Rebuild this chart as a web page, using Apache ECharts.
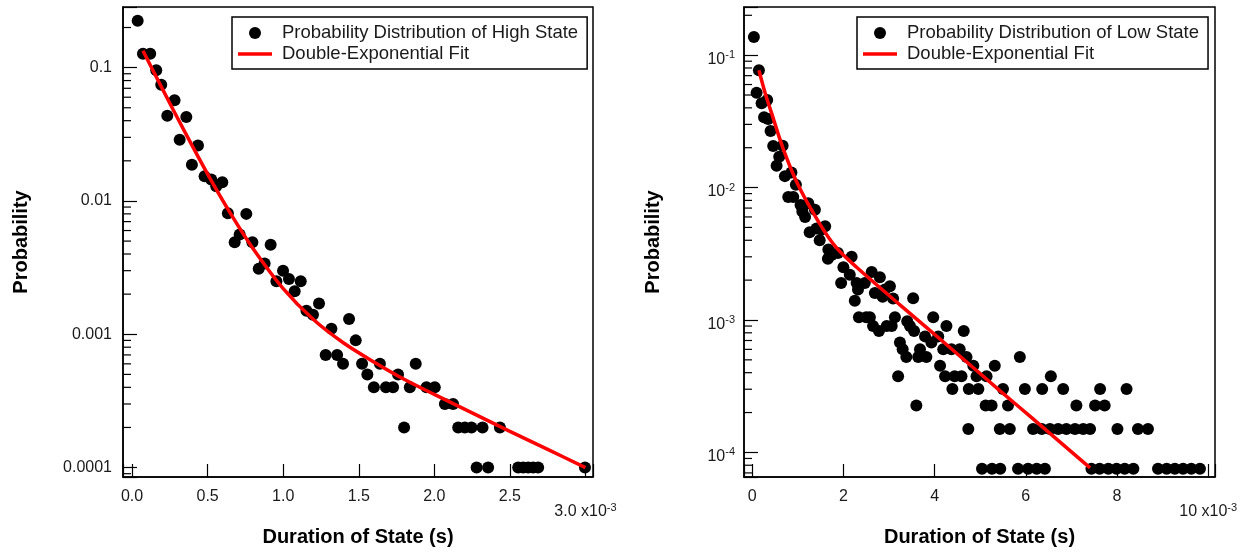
<!DOCTYPE html>
<html>
<head>
<meta charset="utf-8">
<script src="https://cdn.jsdelivr.net/npm/echarts@6/dist/echarts.min.js"></script>
<style>
  html, body { margin: 0; padding: 0; background: #fff; }
  #chart { width: 1250px; height: 554px; }
</style>
</head>
<body>
<div id="chart"></div>
<script>
// Durations are in units of 1e-3 s (the axes carry the x10^-3 multiplier).

// ---- High state: dwell-time histogram ----
const highDuration = [0.037, 0.072, 0.12, 0.16, 0.193, 0.233, 0.281, 0.315, 0.359, 0.396,
  0.436, 0.48, 0.524, 0.557, 0.597, 0.634, 0.679, 0.712, 0.756, 0.796,
  0.838, 0.877, 0.917, 0.955, 0.999, 1.038, 1.076, 1.116, 1.154, 1.197,
  1.237, 1.281, 1.319, 1.357, 1.396, 1.436, 1.48, 1.522, 1.557, 1.6,
  1.64, 1.68, 1.727, 1.76, 1.8, 1.838, 1.877, 1.948, 2.003, 2.07,
  2.124, 2.158, 2.202, 2.246, 2.28, 2.319, 2.356, 2.434, 2.555, 2.588,
  2.621, 2.654, 2.687, 2.997];
const highProb = [0.225, 0.127, 0.127, 0.0955, 0.0745, 0.0436, 0.0569, 0.0288, 0.0427, 0.0187,
  0.0261, 0.0153, 0.0145, 0.0129, 0.0138, 0.0081, 0.0049, 0.0056, 0.008, 0.0049,
  0.0031, 0.0034, 0.0047, 0.0025, 0.003, 0.0026, 0.0021, 0.0025, 0.0015, 0.0014,
  0.0017, 0.0007, 0.0011, 0.0007, 0.0006, 0.0013, 0.0009, 0.0006, 0.0005, 0.0004,
  0.0006, 0.0004, 0.0004, 0.0005, 0.0002, 0.0004, 0.0006, 0.0004, 0.0004, 0.0003,
  0.0003, 0.0002, 0.0002, 0.0002, 0.0001, 0.0002, 0.0001, 0.0002, 0.0001, 0.0001,
  0.0001, 0.0001, 0.0001, 0.0001];

// Double-exponential fit curve, high state
const highFitDuration = [0.072, 0.2, 0.35, 0.5, 0.65, 0.8, 1.0, 1.2, 1.4, 1.6, 1.8, 2.0, 2.25, 2.5, 2.75, 3.0];
const highFitProb = [0.134, 0.0696, 0.0328, 0.0159, 0.0081, 0.0044, 0.0022, 0.00129, 0.00086, 0.00062,
  0.00046, 0.000354, 0.000257, 0.000187, 0.000137, 0.0001];

// ---- Low state: dwell-time histogram ----
const lowDuration = [0.037, 0.096, 0.147, 0.206, 0.26, 0.329, 0.35, 0.403, 0.46, 0.535,
  0.592, 0.667, 0.717, 0.79, 0.86, 0.9, 0.958, 1.06, 1.1, 1.16,
  1.23, 1.26, 1.375, 1.41, 1.48, 1.52, 1.6, 1.66, 1.67, 1.74,
  1.88, 1.95, 2.0, 2.14, 2.18, 2.25, 2.29, 2.32, 2.34, 2.47,
  2.5, 2.58, 2.62, 2.65, 2.69, 2.8, 2.78, 2.86, 2.91, 2.95,
  3.02, 3.06, 3.09, 3.13, 3.2, 3.24, 3.3, 3.38, 3.4, 3.46,
  3.53, 3.55, 3.6, 3.64, 3.68, 3.79, 3.82, 3.93, 3.97, 4.08,
  4.12, 4.19, 4.23, 4.26, 4.37, 4.39, 4.44, 4.55, 4.59, 4.64,
  4.7, 4.74, 4.75, 4.85, 4.92, 4.96, 5.04, 5.14, 5.12, 5.25,
  5.26, 5.32, 5.43, 5.44, 5.5, 5.61, 5.65, 5.83, 5.87, 5.98,
  6.05, 6.16, 6.24, 6.35, 6.36, 6.42, 6.53, 6.55, 6.71, 6.82,
  6.89, 7.08, 7.11, 7.26, 7.41, 7.44, 7.52, 7.62, 7.63, 7.73,
  7.81, 7.99, 8.01, 8.17, 8.21, 8.36, 8.46, 8.68, 8.9, 9.09,
  9.27, 9.45, 9.63, 9.82];
const lowProb = [0.137, 0.052, 0.077, 0.0433, 0.034, 0.0458, 0.033, 0.0267, 0.0206, 0.0146,
  0.0171, 0.0207, 0.0122, 0.0085, 0.013, 0.0085, 0.0105, 0.0074, 0.0066, 0.006,
  0.0076, 0.0046, 0.0068, 0.0049, 0.004, 0.0048, 0.0051, 0.0029, 0.0034, 0.0031,
  0.0032, 0.0019, 0.0025, 0.0022, 0.003, 0.0014, 0.0019, 0.0017, 0.00105, 0.0019,
  0.00105, 0.00105, 0.0023, 0.000902, 0.0016, 0.0021, 0.000827, 0.0015, 0.0017, 0.000902,
  0.0018, 0.000902, 0.00145, 0.00105, 0.000376, 0.000677, 0.000602, 0.000526, 0.000978, 0.000902,
  0.00146, 0.000827, 0.000226, 0.000526, 0.000602, 0.000752, 0.000526, 0.000677, 0.00105, 0.000752,
  0.000451, 0.000602, 0.000376, 0.000902, 0.000602, 0.000301, 0.000376, 0.000602, 0.000376, 0.000827,
  0.000526, 0.00015, 0.000301, 0.000451, 0.000376, 0.000301, 0.0000752, 0.000376, 0.000226, 0.000226,
  0.0000752, 0.000451, 0.00015, 0.0000752, 0.000301, 0.000226, 0.00015, 0.0000752, 0.000526, 0.000301,
  0.0000752, 0.00015, 0.0000752, 0.00015, 0.000301, 0.0000752, 0.00015, 0.000376, 0.00015, 0.000301,
  0.00015, 0.00015, 0.000226, 0.00015, 0.00015, 0.0000752, 0.000226, 0.0000752, 0.000301, 0.000226,
  0.0000752, 0.0000752, 0.00015, 0.0000752, 0.000301, 0.0000752, 0.00015, 0.00015, 0.0000752, 0.0000752,
  0.0000752, 0.0000752, 0.0000752, 0.0000752];

// Double-exponential fit curve, low state
const lowFitDuration = [0.147, 0.3, 0.425, 0.68, 1.01, 1.485, 1.85, 2.29, 3.24, 4.335, 5.43, 6.16, 7.41];
const lowFitProb = [0.077, 0.0495, 0.0365, 0.0196, 0.0104, 0.0053, 0.0035, 0.0025, 0.0013, 0.00062,
  0.000293, 0.000179, 0.0000764];

// ---- Tick labels ----
const highXTicks = [0, 0.5, 1.0, 1.5, 2.0, 2.5, 3.0];
const highXTickLabels = ['0.0', '0.5', '1.0', '1.5', '2.0', '2.5', '3.0'];
const lowXTicks = [0, 2, 4, 6, 8, 10];
const lowXTickLabels = ['0', '2', '4', '6', '8', '10'];
const xMultiplierExp = '-3';
const highYTickExp = [-4, -3, -2, -1];
const highYTickLabels = ['0.0001', '0.001', '0.01', '0.1'];
const lowYTickExp = [-4, -3, -2, -1];

const highName = 'Probability Distribution of High State';
const lowName = 'Probability Distribution of Low State';
const fitName = 'Double-Exponential Fit';
const xTitle = 'Duration of State (s)';
const yTitle = 'Probability';

// ---- Axis ranges ----
const highX = [-0.06, 3.05], highY = [8.5e-5, 0.285];
const lowX = [-0.18, 10.15], lowY = [6.52e-5, 0.231];

const FONT = 'Arial, "Liberation Sans", sans-serif';
const TEXT = '#1a1a1a';

function pairs(xs, ys) { return xs.map((x, i) => [x, ys[i]]); }

// log-axis minor tick positions (2..9 within each decade)
function minorTicks(range) {
  const out = [];
  for (let e = -6; e <= 0; e++) {
    for (let m = 2; m <= 9; m++) {
      const v = m * Math.pow(10, e);
      if (v > range[0] && v < range[1]) out.push(v);
    }
  }
  return out;
}

function xFormatter(ticks, labels) {
  return function (v) {
    const i = ticks.findIndex(t => Math.abs(t - v) < 1e-6);
    if (i < 0) return '';
    if (i === ticks.length - 1) {
      return '{sp| }\n{b|' + labels[i] + ' x10}{s|' + xMultiplierExp + '}';
    }
    return '{n|' + labels[i] + '}';
  };
}

const xRich = {
  n: { fontSize: 16, lineHeight: 20, color: TEXT, fontFamily: FONT },
  sp: { fontSize: 8, lineHeight: 15 },
  b: { fontSize: 16, lineHeight: 20, color: TEXT, fontFamily: FONT },
  s: { fontSize: 11, lineHeight: 11, verticalAlign: 'top', color: TEXT, fontFamily: FONT }
};

function xAxisCfg(gridIndex, range, ticks, labels) {
  return {
    gridIndex, type: 'value', min: range[0], max: range[1],
    name: xTitle, nameLocation: 'middle', nameGap: 50,
    nameTextStyle: { fontSize: 20, fontWeight: 'bold', color: '#000', fontFamily: FONT },
    axisLine: { show: true, onZero: false, lineStyle: { color: '#000', width: 1.5 } },
    axisTick: { show: true, inside: true, length: 13, lineStyle: { color: '#000', width: 1.2 } },
    splitLine: { show: false },
    axisLabel: { margin: 10, formatter: xFormatter(ticks, labels), rich: xRich,
      showMinLabel: true, showMaxLabel: true, hideOverlap: false }
  };
}

function yAxisCfg(gridIndex, range, nameGap, axisLabel) {
  return {
    gridIndex, type: 'log', logBase: 10, min: range[0], max: range[1],
    name: yTitle, nameLocation: 'middle', nameRotate: 90, nameGap,
    nameTextStyle: { fontSize: 20, fontWeight: 'bold', color: '#000', fontFamily: FONT },
    axisLine: { show: true, onZero: false, lineStyle: { color: '#000', width: 1.5 } },
    axisTick: { show: true, inside: true, length: 14, lineStyle: { color: '#000', width: 1.2 } },
    splitLine: { show: false },
    minorTick: { show: false },
    axisLabel
  };
}

function expOf(v) {
  const e = Math.log10(v);
  return Math.abs(e - Math.round(e)) < 1e-6 ? Math.round(e) : null;
}

const highYFormatter = v => {
  const e = expOf(v);
  const i = highYTickExp.indexOf(e);
  return i < 0 ? '' : highYTickLabels[i];
};
const lowYFormatter = v => {
  const e = expOf(v);
  return lowYTickExp.indexOf(e) < 0 ? '' : '{b|10}{s|' + e + '}';
};

function minorTickSeries(idx, xMin, yRange) {
  return {
    type: 'custom', xAxisIndex: idx, yAxisIndex: idx, silent: true, clip: false, z: 5,
    data: minorTicks(yRange).map(v => [xMin, v]),
    renderItem: (params, api) => {
      const p = api.coord([api.value(0), api.value(1)]);
      return { type: 'line', shape: { x1: p[0], y1: p[1], x2: p[0] + 8, y2: p[1] },
        style: { stroke: '#000', lineWidth: 1.2 } };
    }
  };
}

// thin bar used as the legend glyph of the fit curves
const FIT_ICON = 'path://M0,0L34,0L34,3.5L0,3.5Z';

function legendCfg(left, dataName) {
  return {
    left, top: 17, orient: 'vertical',
    data: [{ name: dataName, icon: 'circle' }, { name: fitName, icon: FIT_ICON }],
    itemWidth: 34, itemHeight: 12, itemGap: 1,
    padding: [6, 9, 5, 6],
    borderColor: '#000', borderWidth: 1.5, backgroundColor: '#fff',
    selectedMode: false,
    textStyle: { fontSize: 18.5, lineHeight: 20, color: TEXT, fontFamily: FONT, padding: [0, 0, 0, 5] }
  };
}

const option = {
  animation: false,
  backgroundColor: '#fff',
  textStyle: { fontFamily: FONT },
  grid: [
    { left: 123, top: 7, width: 470, height: 470, show: true, borderColor: '#000', borderWidth: 1.5 },
    { left: 744, top: 7, width: 471, height: 470, show: true, borderColor: '#000', borderWidth: 1.5 }
  ],
  legend: [legendCfg(232, highName), legendCfg(857, lowName)],
  xAxis: [
    xAxisCfg(0, highX, highXTicks, highXTickLabels),
    xAxisCfg(1, lowX, lowXTicks, lowXTickLabels)
  ],
  yAxis: [
    yAxisCfg(0, highY, 92, { margin: 11, formatter: highYFormatter, fontSize: 16, color: TEXT, fontFamily: FONT }),
    yAxisCfg(1, lowY, 81, {
      margin: 9, formatter: lowYFormatter, padding: [9, 0, 0, 0],
      rich: {
        b: { fontSize: 16, lineHeight: 20, color: TEXT, fontFamily: FONT },
        s: { fontSize: 11, lineHeight: 11, verticalAlign: 'top', color: TEXT, fontFamily: FONT }
      }
    })
  ],
  series: [
    { name: highName, type: 'scatter', xAxisIndex: 0, yAxisIndex: 0, symbol: 'circle', symbolSize: 12,
      itemStyle: { color: '#000', opacity: 1 }, z: 2, data: pairs(highDuration, highProb) },
    { name: fitName, type: 'line', xAxisIndex: 0, yAxisIndex: 0, symbol: 'none', smooth: 0.3,
      lineStyle: { color: '#ff0000', width: 3.5 }, itemStyle: { color: '#ff0000' }, z: 3,
      data: pairs(highFitDuration, highFitProb) },
    { name: lowName, type: 'scatter', xAxisIndex: 1, yAxisIndex: 1, symbol: 'circle', symbolSize: 12,
      itemStyle: { color: '#000', opacity: 1 }, z: 2, data: pairs(lowDuration, lowProb) },
    { name: fitName, type: 'line', xAxisIndex: 1, yAxisIndex: 1, symbol: 'none', smooth: 0.3,
      lineStyle: { color: '#ff0000', width: 3.5 }, itemStyle: { color: '#ff0000' }, z: 3,
      data: pairs(lowFitDuration, lowFitProb) },
    minorTickSeries(0, highX[0], highY),
    minorTickSeries(1, lowX[0], lowY)
  ]
};

const chart = echarts.init(document.getElementById('chart'), null, { renderer: 'canvas' });
chart.setOption(option);
</script>
</body>
</html>
